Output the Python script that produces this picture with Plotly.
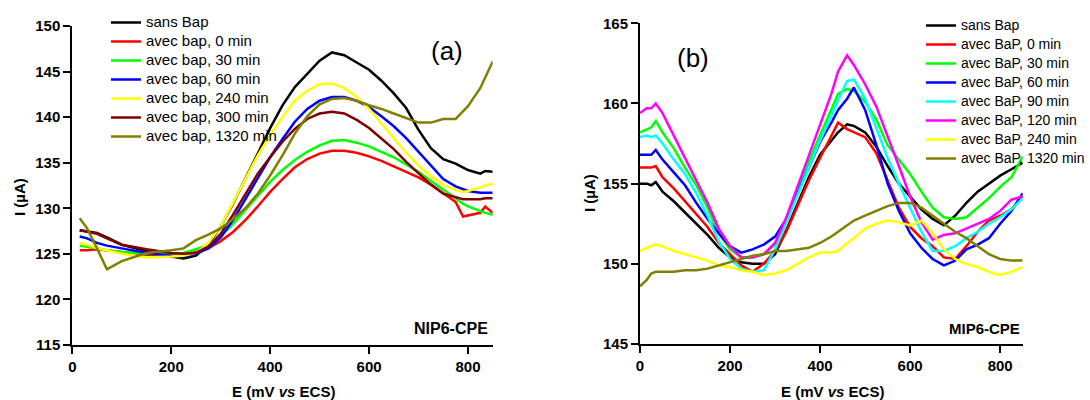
import plotly.graph_objects as go

W, H = 1090, 400

# ---------------- Panel (a): NIP6-CPE ----------------
EA = [15, 30, 50, 70, 100, 150, 200, 225, 250, 275, 300, 325, 350, 375, 400, 425, 450, 475,
      500, 525, 550, 575, 600, 625, 650, 675, 700, 725, 750, 775, 790, 800, 825, 835, 850]

A_SANS = [127.6, 127.5, 127.3, 126.8, 126.0, 125.3, 124.7, 124.5, 124.8, 126.0, 128.0, 130.5, 133.2, 136.0,
          138.8, 141.3, 143.3, 144.8, 146.2, 147.1, 146.8, 146.0, 145.2, 144.0, 142.6, 141.0, 138.6, 136.6,
          135.4, 134.9, 134.5, 134.2, 133.8, 134.1, 134.0]
A_0 = [125.4, 125.4, 125.5, 125.4, 125.2, 124.9, 124.8, 124.9, 125.2, 125.6, 126.4, 127.4, 128.7, 130.2,
       131.8, 133.2, 134.5, 135.4, 136.0, 136.3, 136.3, 136.1, 135.7, 135.2, 134.6, 134.0, 133.4, 132.6,
       131.6, 130.7, 129.1, 129.2, 129.5, 130.2, 129.5]
A_30 = [125.9, 125.8, 125.6, 125.4, 125.2, 125.0, 125.0, 125.1, 125.5, 126.0, 126.9, 128.3, 129.8, 131.4,
        132.9, 134.2, 135.3, 136.2, 136.9, 137.4, 137.5, 137.2, 136.8, 136.2, 135.6, 134.8, 134.0, 133.0,
        132.1, 131.1, 130.5, 130.2, 129.7, 129.5, 129.3]
A_60 = [126.9, 126.7, 126.2, 125.9, 125.6, 125.1, 124.8, 124.7, 125.0, 125.6, 126.8, 128.7, 131.0, 133.3,
        135.6, 137.6, 139.5, 140.9, 141.8, 142.2, 142.2, 141.8, 141.1, 140.1, 139.0, 137.7, 136.2, 134.6,
        133.2, 132.4, 132.1, 131.9, 131.7, 131.7, 131.7]
A_240 = [126.2, 126.0, 125.6, 125.4, 125.0, 124.6, 124.7, 124.8, 125.1, 126.2, 128.0, 130.6, 133.3, 135.8,
         138.0, 140.0, 141.8, 142.9, 143.6, 143.7, 143.2, 142.2, 140.9, 139.3, 137.7, 136.1, 134.7, 133.5,
         132.6, 132.0, 131.8, 131.9, 132.3, 132.5, 132.7]
A_300 = [127.6, 127.4, 127.2, 126.7, 126.0, 125.5, 125.1, 125.0, 125.1, 125.8, 127.2, 129.3, 131.6, 133.8,
         135.6, 137.3, 138.7, 139.8, 140.4, 140.6, 140.4, 139.7, 138.8, 137.7, 136.5, 135.1, 133.8, 132.6,
         131.6, 131.2, 131.0, 131.0, 131.0, 131.1, 131.1]
A_1320 = [128.9, 127.8, 125.6, 123.3, 124.2, 125.1, 125.4, 125.6, 126.5, 127.1, 127.8, 128.8, 130.0, 131.6,
          133.6, 135.8, 138.2, 140.1, 141.4, 142.0, 142.1, 141.8, 141.3, 140.9, 140.4, 139.9, 139.4, 139.4,
          139.8, 139.8, 140.7, 141.2, 143.2, 144.3, 146.1]

A_NAMES = ["sans Bap", "avec bap, 0 min", "avec bap, 30 min", "avec bap, 60 min",
           "avec bap, 240 min", "avec bap, 300 min", "avec bap, 1320 min"]
A_COLORS = ["#000000", "#FF0000", "#00FF00", "#0000FF", "#FFFF00", "#800000", "#808000"]
A_SERIES = [A_SANS, A_0, A_30, A_60, A_240, A_300, A_1320]

# ---------------- Panel (b): MIP6-CPE ----------------
EB = [0, 15, 25, 35, 50, 75, 100, 125, 150, 175, 200, 225, 250, 275, 300, 325, 350, 375, 400, 425,
      440, 460, 475, 500, 525, 550, 575, 600, 625, 650, 675, 700, 725, 750, 775, 800, 825, 850]

B_SANS = [155.0, 155.0, 154.9, 155.1, 154.5, 153.9, 153.2, 152.5, 151.8, 151.0, 150.4, 150.1, 150.0, 150.0,
          150.6, 152.1, 153.8, 155.4, 156.8, 157.7, 158.2, 158.7, 158.6, 158.2, 157.3, 156.1, 155.0, 154.2,
          153.4, 152.8, 152.4, 153.0, 153.8, 154.5, 155.0, 155.5, 155.9, 156.3]
B_0 = [156.0, 156.0, 156.0, 156.1, 155.4, 154.7, 153.9, 153.1, 152.3, 151.3, 150.6, 149.9, 149.5, 150.0,
       150.8, 152.0, 153.6, 155.2, 156.6, 158.0, 158.8, 158.4, 158.2, 157.9, 156.9, 155.2, 153.5, 152.3,
       151.6, 151.1, 150.4, 150.3, 151.1, 152.0, 152.7, 153.0, 153.4, 154.2]
B_30 = [158.2, 158.4, 158.5, 158.9, 158.2, 157.2, 156.0, 154.9, 153.5, 151.9, 150.9, 150.4, 150.4, 150.6,
        151.2, 152.6, 154.6, 156.4, 158.0, 159.6, 160.6, 160.9, 160.8, 160.1, 159.0, 157.4, 156.5, 155.6,
        154.5, 153.5, 152.9, 152.8, 152.9, 153.5, 154.1, 154.8, 155.4, 156.7]
B_60 = [156.8, 156.8, 156.8, 157.1, 156.5, 155.7, 154.9, 153.8, 152.8, 151.9, 151.1, 150.7, 150.9, 151.2,
        151.7, 152.8, 154.4, 156.0, 157.6, 158.8, 159.6, 160.3, 161.0, 159.6, 157.4, 155.0, 153.3, 151.9,
        151.0, 150.3, 149.9, 150.2, 150.9, 151.2, 151.6, 152.5, 153.3, 154.4]
B_90 = [157.9, 158.0, 157.9, 158.0, 157.5, 156.5, 155.6, 154.4, 153.0, 151.4, 150.3, 149.7, 149.5, 149.6,
        150.9, 152.6, 154.3, 156.0, 157.7, 159.2, 160.2, 161.4, 161.5, 160.3, 158.5, 156.6, 155.0, 153.5,
        152.0, 150.8, 150.8, 151.1, 151.6, 152.0, 152.5, 152.9, 153.4, 154.1]
B_120 = [159.4, 159.7, 159.7, 160.0, 159.4, 158.0, 156.6, 155.2, 153.8, 152.2, 151.1, 150.4, 150.4, 150.6,
         151.3, 152.9, 154.8, 156.7, 158.6, 160.6, 162.0, 163.0, 162.4, 161.2, 159.8, 158.0, 156.1, 154.2,
         152.6, 151.5, 151.8, 151.9, 152.2, 152.5, 152.8, 153.3, 154.0, 154.2]
B_240 = [150.8, 151.0, 151.1, 151.2, 151.1, 150.8, 150.6, 150.4, 150.2, 149.9, 149.8, 149.6, 149.5, 149.3,
         149.4, 149.6, 150.0, 150.4, 150.7, 150.7, 150.8, 151.3, 151.6, 152.2, 152.5, 152.7, 152.6, 152.4,
         152.7, 151.9, 150.9, 150.3, 150.0, 149.8, 149.5, 149.3, 149.5, 149.8]
B_1320 = [148.6, 149.0, 149.4, 149.5, 149.5, 149.5, 149.6, 149.6, 149.7, 149.9, 150.1, 150.3, 150.5, 150.6,
          150.8, 150.8, 150.9, 151.0, 151.3, 151.7, 152.0, 152.4, 152.7, 153.0, 153.3, 153.6, 153.8, 153.8,
          153.5, 153.0, 152.5, 152.0, 151.6, 151.1, 150.6, 150.3, 150.2, 150.2]

B_NAMES = ["sans Bap", "avec BaP, 0 min", "avec BaP, 30 min", "avec BaP, 60 min", "avec BaP, 90 min",
           "avec BaP, 120 min", "avec BaP, 240 min", "avec BaP, 1320 min"]
B_COLORS = ["#000000", "#FF0000", "#00FF00", "#0000FF", "#00FFFF", "#FF00FF", "#FFFF00", "#808000"]
B_SERIES = [B_SANS, B_0, B_30, B_60, B_90, B_120, B_240, B_1320]

X_TICKS = [0, 200, 400, 600, 800]
A_Y_TICKS = [115, 120, 125, 130, 135, 140, 145, 150]
B_Y_TICKS = [145, 150, 155, 160, 165]

FONT = "Liberation Sans, Arial, sans-serif"

fig = go.Figure()
for name, col, ys in zip(A_NAMES, A_COLORS, A_SERIES):
    fig.add_trace(go.Scatter(x=EA, y=ys, mode="lines", name=f'<span style="font-size:15px">{name}</span>',
                             line=dict(color=col, width=2.5), xaxis="x", yaxis="y", legend="legend"))
for name, col, ys in zip(B_NAMES, B_COLORS, B_SERIES):
    fig.add_trace(go.Scatter(x=EB, y=ys, mode="lines", name=f'<span style="font-size:14px">{name}</span>',
                             line=dict(color=col, width=2.5), xaxis="x2", yaxis="y2", legend="legend2"))

def px(x):
    return x / W

def py(y):
    return 1 - y / H

axis_common = dict(showline=True, linecolor="black", linewidth=2, ticks="outside", ticklen=7, tickwidth=2,
                   tickcolor="black", showgrid=False, zeroline=False, automargin=False,
                   tickfont=dict(family=FONT, size=15, color="black", weight="bold"))

fig.update_layout(
    width=W, height=H, margin=dict(l=0, r=0, t=0, b=0, autoexpand=False),
    paper_bgcolor="white", plot_bgcolor="white",
    font=dict(family=FONT, color="black"),
    xaxis=dict(domain=[px(72.3), px(492.7)], range=[0, 850], tickvals=X_TICKS, anchor="y", **axis_common),
    yaxis=dict(domain=[py(345), py(26)], range=[115, 150], tickvals=A_Y_TICKS, anchor="x", **axis_common),
    xaxis2=dict(domain=[px(640), px(1022.7)], range=[0, 850], tickvals=X_TICKS, anchor="y2", **axis_common),
    yaxis2=dict(domain=[py(344), py(23.3)], range=[145, 165], tickvals=B_Y_TICKS, anchor="x2", **axis_common),
    legend=dict(x=px(106), y=py(8.0), xanchor="left", yanchor="top", bgcolor="rgba(0,0,0,0)",
                font=dict(family=FONT, size=12, color="black"), borderwidth=0, tracegroupgap=0),
    legend2=dict(x=px(921), y=py(11.0), xanchor="left", yanchor="top", bgcolor="rgba(0,0,0,0)",
                 font=dict(family=FONT, size=12, color="black"), borderwidth=0, tracegroupgap=0),
)

ann = []
title_font = dict(family=FONT, size=15, color="black", weight="bold")
for cx in (283, 832):
    ann.append(dict(text="E (mV <i>vs</i> ECS)", x=px(cx), y=py(391), xref="paper", yref="paper",
                    showarrow=False, xanchor="center", yanchor="middle", font=title_font))
for cx, cy in ((20, 197), (590, 193)):
    ann.append(dict(text="I (µA)", x=px(cx), y=py(cy), xref="paper", yref="paper", textangle=-90,
                    showarrow=False, xanchor="center", yanchor="middle", font=title_font))
ann.append(dict(text="(a)", x=px(447), y=py(51), xref="paper", yref="paper", showarrow=False,
                xanchor="center", yanchor="middle", font=dict(family=FONT, size=26, color="black")))
ann.append(dict(text="(b)", x=px(693), y=py(58), xref="paper", yref="paper", showarrow=False,
                xanchor="center", yanchor="middle", font=dict(family=FONT, size=26, color="black")))
ann.append(dict(text="NIP6-CPE", x=px(490), y=py(328), xref="paper", yref="paper", showarrow=False,
                xanchor="right", yanchor="middle", font=dict(family=FONT, size=16, color="black", weight="bold")))
ann.append(dict(text="MIP6-CPE", x=px(1022), y=py(328), xref="paper", yref="paper", showarrow=False,
                xanchor="right", yanchor="middle", font=dict(family=FONT, size=15, color="black", weight="bold")))
fig.update_layout(annotations=ann)

fig.write_html("out.html", config={"displayModeBar": False},
               post_script="document.body.style.margin='0';document.body.style.padding='0';")
